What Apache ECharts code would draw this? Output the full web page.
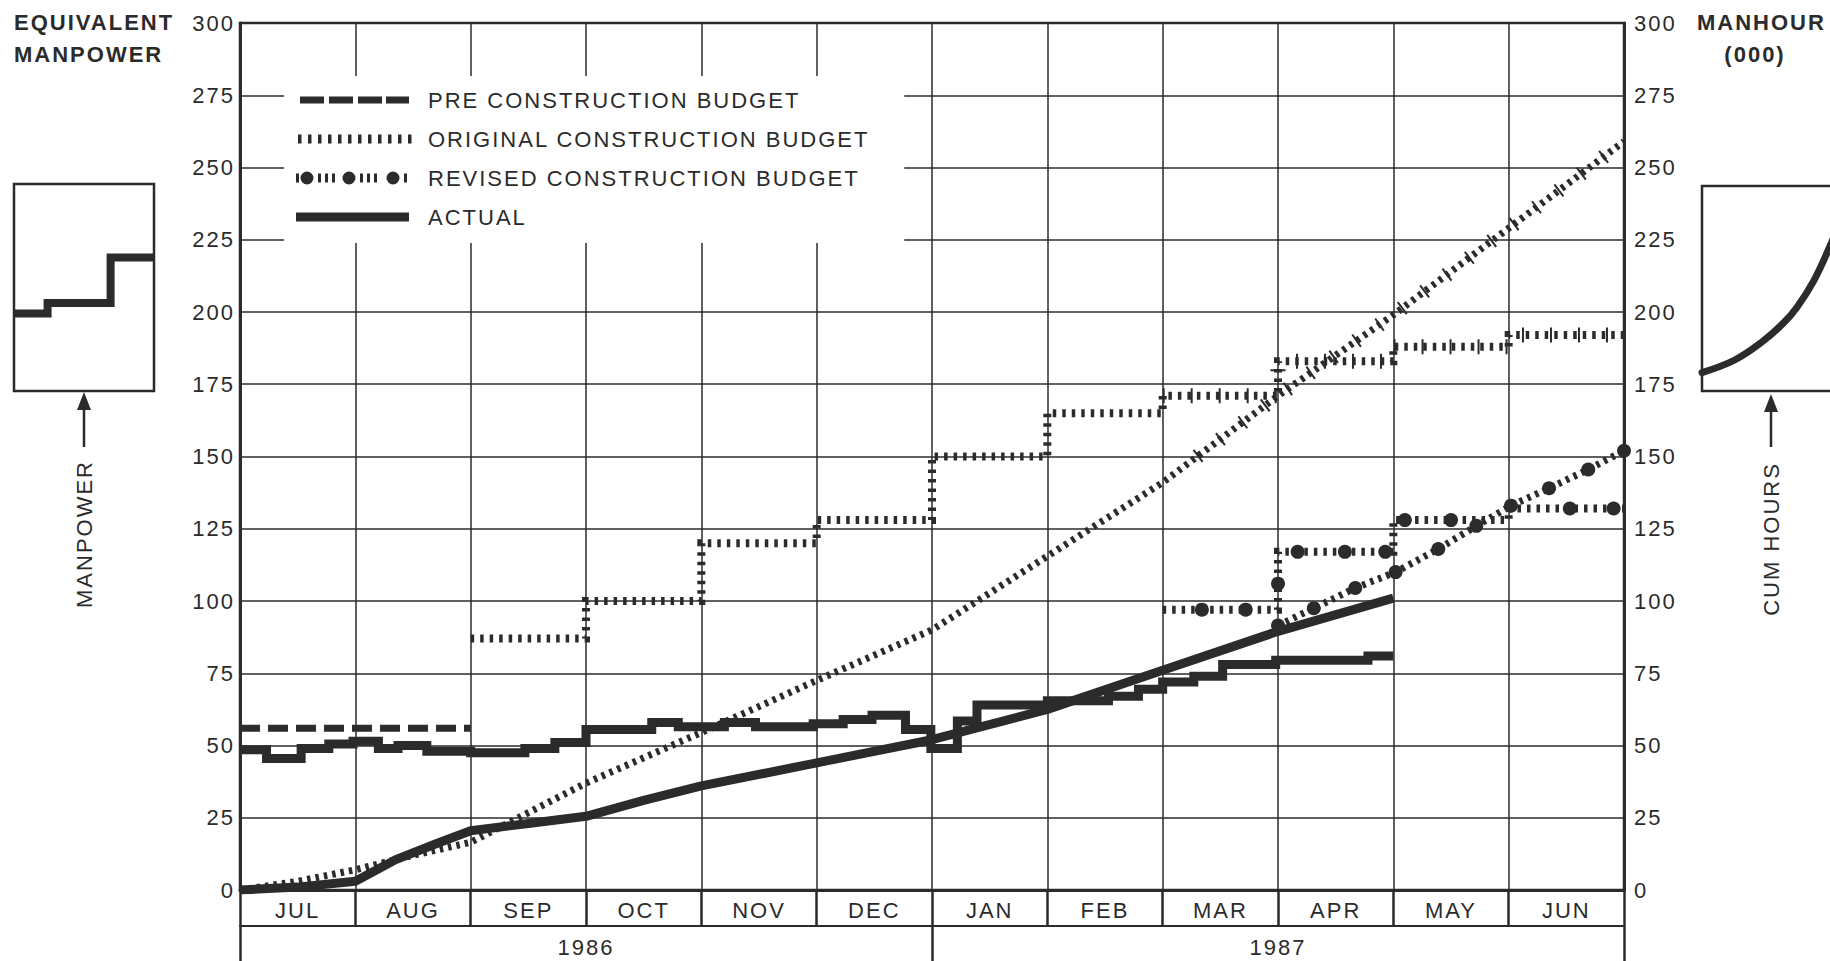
<!DOCTYPE html>
<html>
<head>
<meta charset="utf-8">
<script src="https://cdn.jsdelivr.net/npm/echarts@6.0.0/dist/echarts.min.js"></script>
<style>
html, body { margin: 0; padding: 0; background: #ffffff; }
#chart { width: 1830px; height: 961px; }
#chart svg text { letter-spacing: 2px; }
</style>
</head>
<body>
<div id="chart"></div>
<script>
// ---------------- data ----------------
const months = ['JUL', 'AUG', 'SEP', 'OCT', 'NOV', 'DEC', 'JAN', 'FEB', 'MAR', 'APR', 'MAY', 'JUN'];
const years = ['1986', '1987'];
const legendNames = ['PRE CONSTRUCTION BUDGET', 'ORIGINAL CONSTRUCTION BUDGET', 'REVISED CONSTRUCTION BUDGET', 'ACTUAL'];

// x = months elapsed since 1 JUL 1986, y = equivalent manpower / manhours (000)
const preConstruction = [[0, 56], [2, 56]];
const originalManpower = [[2, 87], [3, 100], [4, 120], [5, 128], [6, 150], [7, 165], [8, 171], [9, 183], [10, 188], [11, 192], [12, 192]];
const originalCumHours = [[0, 0], [0.5, 3], [1, 7], [1.5, 12], [2, 16.5], [3, 37], [4, 54.5], [5, 72.5], [6, 90], [7, 115.5], [8, 141], [9, 171], [10, 199], [11, 229], [12, 259]];
const revisedManpower = [[8, 97], [9, 117], [10, 128], [11, 132], [12, 132]];
const revisedManpowerDots = [[8.34, 97], [8.72, 97], [9, 106], [9.17, 117], [9.58, 117], [9.93, 117], [10.1, 128], [10.5, 128], [11.53, 132], [11.91, 132]];
const revisedCumHours = [[9, 91.5], [9.31, 97.5], [9.67, 104.5], [10.02, 110], [10.39, 118], [10.72, 126], [11.02, 133], [11.35, 139], [11.69, 145.5], [12, 152]];
const actualManpower = [[0, 48.5], [0.23, 45.5], [0.53, 49], [0.77, 50.5], [0.98, 51.5], [1.2, 49], [1.37, 50], [1.62, 48], [2, 47.5], [2.47, 49], [2.73, 51], [3, 55.5], [3.57, 58], [3.8, 56.5], [4.2, 58], [4.47, 56.5], [4.97, 57.5], [5.23, 59], [5.48, 60.5], [5.77, 55.5], [5.99, 49], [6.22, 58.5], [6.39, 64], [7, 65.5], [7.53, 67], [7.79, 69.5], [8, 72], [8.27, 74], [8.52, 78], [8.98, 79.5], [9.78, 81], [10, 81]];
const actualCumHours = [[0, 0], [0.5, 1], [1, 3], [1.35, 10.5], [1.7, 16], [2, 20.5], [2.5, 23], [3, 25.5], [3.5, 31], [4, 36], [5, 44], [6, 52], [7, 62.5], [8, 76], [9, 89.5], [10, 101]];
// month from which the original budget is drawn hatched
const hatchFrom = 8.3;

// small explanatory insets (relative units)
const insetManpower = [[0, 37.5], [0.24, 42.5], [0.69, 64.5], [1, 64.5]];
const insetCumHours = [[0, 9], [0.23, 15], [0.43, 24], [0.58, 33], [0.68, 41], [0.8, 54], [0.91, 70], [1, 85]];

// ---------------- styling ----------------
const INK = '#2b2b2b';
const FONT = "'Liberation Sans', Arial, Helvetica, sans-serif";
const DOTTED = { color: INK, width: 8, type: [3.5, 6], cap: 'butt', join: 'miter' };
const DOTTED_CUM = { color: INK, width: 7, type: [3.5, 5], cap: 'butt', join: 'miter' };
const HATCH = { color: INK, width: 15, type: [2, 26], cap: 'butt', join: 'miter' };

// legend key icons (box 127 x 14, drawn in first 113 px)
function rect(x, y, w, h) { return 'M' + x + ',' + y + 'h' + w + 'v' + h + 'h' + (-w) + 'z'; }
function circ(cx, cy, r) { return 'M' + (cx - r) + ',' + cy + 'a' + r + ',' + r + ' 0 1,0 ' + (2 * r) + ',0a' + r + ',' + r + ' 0 1,0 ' + (-2 * r) + ',0z'; }
const BOX = 'M0,0M127,14';
let iconPre = BOX + rect(4, 3.5, 24, 7) + rect(33, 3.5, 24, 7) + rect(62, 3.5, 24, 7) + rect(90, 3.5, 23, 7);
let iconOrig = BOX;
for (let k = 0; k < 12; k++) iconOrig += rect(2 + k * 10, 2.5, 3.5, 9);
let iconRev = BOX + rect(0, 2.5, 3, 9) + circ(11, 7, 6.5) + rect(22, 2.5, 3, 9) + rect(29, 2.5, 3, 9) + rect(36, 2.5, 3, 9) + circ(53, 7, 6.5) + rect(64, 2.5, 3, 9) + rect(71, 2.5, 3, 9) + rect(78, 2.5, 3, 9) + circ(97, 7, 6.5) + rect(108, 2.5, 3, 9);
let iconAct = BOX + rect(0, 2.5, 113, 9);

// hatched tail of the original budget, taken from the same readings
function tail(arr, from) {
  const out = [];
  for (let i = 0; i < arr.length; i++) {
    if (arr[i][0] >= from) {
      if (out.length === 0 && i > 0) {
        const a = arr[i - 1], b = arr[i];
        out.push([from, a[1] + (b[1] - a[1]) * (from - a[0]) / (b[0] - a[0])]);
      }
      out.push(arr[i]);
    }
  }
  return out;
}

const chart = echarts.init(document.getElementById('chart'), null, { renderer: 'svg', width: 1830, height: 961 });

const labelStyle = { fontSize: 22, color: INK, fontFamily: FONT };

const option = {
  animation: false,
  backgroundColor: '#ffffff',
  color: [INK],
  textStyle: { fontFamily: FONT, color: INK },
  grid: [
    { left: 240, top: 23, width: 1384, height: 867, show: true, borderColor: INK, borderWidth: 2.5, backgroundColor: 'transparent', outerBoundsMode: 'none', containLabel: false },
    { left: 14, top: 184, width: 140, height: 207, show: true, borderColor: INK, borderWidth: 2.5, backgroundColor: 'transparent', outerBoundsMode: 'none', containLabel: false },
    { left: 1702, top: 186, width: 140, height: 205, show: true, borderColor: INK, borderWidth: 2.5, backgroundColor: 'transparent', outerBoundsMode: 'none', containLabel: false }
  ],
  xAxis: [
    { gridIndex: 0, type: 'value', min: 0, max: 12, interval: 1, position: 'bottom',
      axisLine: { show: false }, axisTick: { show: false }, axisLabel: { show: false },
      splitLine: { show: true, lineStyle: { color: INK, width: 1.5 } } },
    { gridIndex: 0, type: 'category', data: months, position: 'bottom', boundaryGap: true,
      axisLine: { show: true, lineStyle: { color: INK, width: 3 } },
      axisTick: { show: true, length: 36, interval: 0, lineStyle: { color: INK, width: 2.5 } },
      axisLabel: Object.assign({ show: true, margin: 9, interval: 0 }, labelStyle),
      splitLine: { show: false } },
    { gridIndex: 0, type: 'category', data: years, position: 'bottom', offset: 36, boundaryGap: true,
      axisLine: { show: true, lineStyle: { color: INK, width: 2 } },
      axisTick: { show: true, length: 40, interval: 0, lineStyle: { color: INK, width: 2.5 } },
      axisLabel: Object.assign({ show: true, margin: 10, interval: 0 }, labelStyle),
      splitLine: { show: false } },
    { gridIndex: 1, type: 'value', min: 0, max: 1, show: false },
    { gridIndex: 2, type: 'value', min: 0, max: 1, show: false }
  ],
  yAxis: [
    { gridIndex: 0, type: 'value', min: 0, max: 300, interval: 25, position: 'left',
      axisLine: { show: true, lineStyle: { color: INK, width: 3 } }, axisTick: { show: false },
      axisLabel: Object.assign({ margin: 5 }, labelStyle),
      splitLine: { show: true, lineStyle: { color: INK, width: 1.5 } } },
    { gridIndex: 0, type: 'value', min: 0, max: 300, interval: 25, position: 'right',
      axisLine: { show: true, lineStyle: { color: INK, width: 3 } }, axisTick: { show: false },
      axisLabel: Object.assign({ margin: 10 }, labelStyle),
      splitLine: { show: false } },
    { gridIndex: 1, type: 'value', min: 0, max: 100, show: false },
    { gridIndex: 2, type: 'value', min: 0, max: 100, show: false }
  ],
  legend: {
    orient: 'vertical', left: 284, top: 76, padding: [12, 90, 14, 12],
    backgroundColor: '#ffffff', itemWidth: 127, itemHeight: 14, itemGap: 15,
    selectedMode: false,
    itemStyle: { borderWidth: 0, color: INK, opacity: 1 },
    textStyle: { fontSize: 22, color: INK, fontFamily: FONT, lineHeight: 24 },
    data: [
      { name: legendNames[0], icon: 'path://' + iconPre },
      { name: legendNames[1], icon: 'path://' + iconOrig },
      { name: legendNames[2], icon: 'path://' + iconRev },
      { name: legendNames[3], icon: 'path://' + iconAct }
    ]
  },
  series: [
    { type: 'line', name: legendNames[0], data: preConstruction, symbol: 'none', z: 3,
      lineStyle: { color: INK, width: 7, type: [20, 8], cap: 'butt' }, itemStyle: { color: INK } },
    { type: 'line', name: legendNames[1], data: originalManpower, step: 'end', symbol: 'none', z: 3,
      lineStyle: DOTTED, itemStyle: { color: INK } },
    { type: 'line', name: legendNames[1], data: originalCumHours, symbol: 'none', z: 3,
      lineStyle: DOTTED_CUM, itemStyle: { color: INK } },
    { type: 'line', name: legendNames[1], data: tail(originalManpower, 8), step: 'end', symbol: 'none', z: 3,
      lineStyle: HATCH, itemStyle: { color: INK } },
    { type: 'line', name: legendNames[1], data: tail(originalCumHours, hatchFrom), symbol: 'none', z: 3,
      lineStyle: HATCH, itemStyle: { color: INK } },
    { type: 'line', name: legendNames[2], data: revisedManpower, step: 'end', symbol: 'none', z: 3,
      lineStyle: DOTTED, itemStyle: { color: INK } },
    { type: 'scatter', name: legendNames[2], data: revisedManpowerDots, symbol: 'circle', symbolSize: 14, z: 4,
      itemStyle: { color: INK, opacity: 1 } },
    { type: 'line', name: legendNames[2], data: revisedCumHours, symbol: 'circle', symbolSize: 14, showSymbol: true, showAllSymbol: true, z: 4,
      lineStyle: DOTTED_CUM, itemStyle: { color: INK, borderWidth: 0, opacity: 1 } },
    { type: 'line', name: legendNames[3], data: actualManpower, step: 'end', symbol: 'none', z: 5,
      lineStyle: { color: INK, width: 9, cap: 'butt', join: 'miter' }, itemStyle: { color: INK } },
    { type: 'line', name: legendNames[3], data: actualCumHours, symbol: 'none', z: 5,
      lineStyle: { color: INK, width: 9, cap: 'butt', join: 'round' }, itemStyle: { color: INK } },
    { type: 'line', name: 'MANPOWER (inset)', data: insetManpower, xAxisIndex: 3, yAxisIndex: 2, step: 'end', symbol: 'none',
      lineStyle: { color: INK, width: 8, cap: 'butt', join: 'miter' }, itemStyle: { color: INK } },
    { type: 'line', name: 'CUM HOURS (inset)', data: insetCumHours, xAxisIndex: 4, yAxisIndex: 3, smooth: 0.4, symbol: 'none',
      lineStyle: { color: INK, width: 7, cap: 'round' }, itemStyle: { color: INK } }
  ],
  graphic: [
    { type: 'text', x: 14, y: 6, style: { text: 'EQUIVALENT\nMANPOWER', fontSize: 22, fontWeight: 'bold', fontFamily: FONT, fill: INK, lineHeight: 32, align: 'left', verticalAlign: 'top' } },
    { type: 'text', x: 1697, y: 6, style: { text: 'MANHOUR', fontSize: 22, fontWeight: 'bold', fontFamily: FONT, fill: INK, lineHeight: 32, align: 'left', verticalAlign: 'top' } },
    { type: 'text', x: 1755, y: 38, style: { text: '(000)', fontSize: 22, fontWeight: 'bold', fontFamily: FONT, fill: INK, lineHeight: 32, align: 'center', verticalAlign: 'top' } },
    { type: 'line', shape: { x1: 84, y1: 405, x2: 84, y2: 447 }, style: { stroke: INK, lineWidth: 2.5 } },
    { type: 'polygon', shape: { points: [[84, 392], [77, 410], [91, 410]] }, style: { fill: INK } },
    { type: 'text', x: 84, y: 534, rotation: Math.PI / 2, style: { text: 'MANPOWER', fontSize: 22, fontFamily: FONT, fill: INK, align: 'center', verticalAlign: 'middle' } },
    { type: 'line', shape: { x1: 1771, y1: 405, x2: 1771, y2: 447 }, style: { stroke: INK, lineWidth: 2.5 } },
    { type: 'polygon', shape: { points: [[1771, 394], [1764, 412], [1778, 412]] }, style: { fill: INK } },
    { type: 'text', x: 1771, y: 539, rotation: Math.PI / 2, style: { text: 'CUM HOURS', fontSize: 22, fontFamily: FONT, fill: INK, align: 'center', verticalAlign: 'middle' } }
  ]
};

chart.setOption(option);
</script>
</body>
</html>
